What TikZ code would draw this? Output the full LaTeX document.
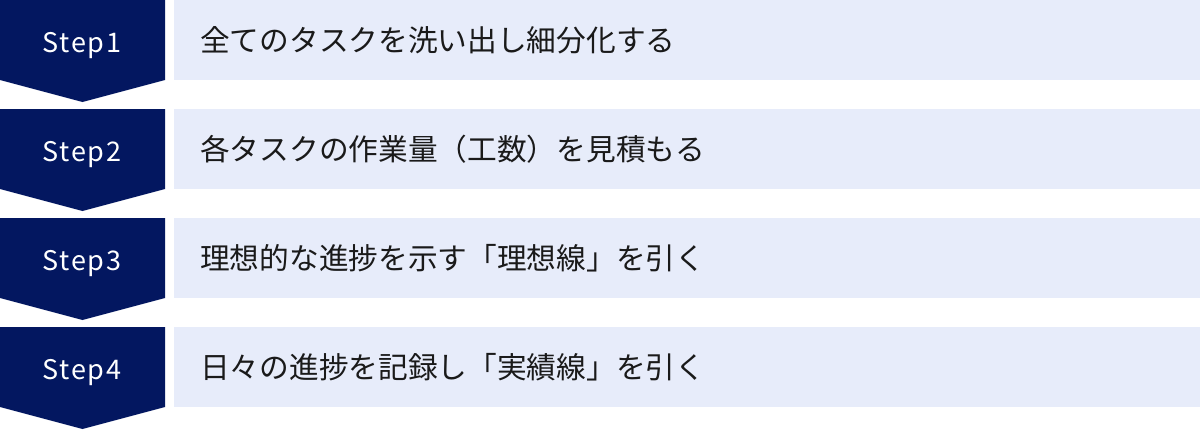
\documentclass[tikz,border=0pt]{standalone}
\usepackage{fontspec}
\setmainfont{Noto Sans CJK JP}
\newfontfamily\jpfont{Noto Sans CJK JP}
\newfontfamily\stepfont[LetterSpace=6]{Noto Sans CJK JP}
\definecolor{navy}{RGB}{3,23,96}
\definecolor{lightbg}{RGB}{231,236,250}
\definecolor{txt}{RGB}{26,26,26}
\tikzset{
  steplabel/.style={text=white, font=\stepfont\fontsize{27}{30}\selectfont, anchor=base, inner sep=0pt},
  bartext/.style={text=txt, font=\jpfont\fontsize{29.7}{34}\selectfont, anchor=west, inner sep=0pt},
}
\begin{document}
\begin{tikzpicture}[x=1pt,y=-1pt]
\useasboundingbox (0,0) rectangle (1200,429);
\foreach \i/\lab/\txt in {0/Step1/全てのタスクを洗い出し細分化する,1/Step2/各タスクの作業量（工数）を見積もる,2/Step3/理想的な進捗を示す「理想線」を引く,3/Step4/日々の進捗を記録し「実績線」を引く}{
  \pgfmathsetmacro{\yy}{\i*109}
  \fill[navy] (0,\yy) -- (165,\yy) -- (165,\yy+80) -- (82.5,\yy+102) -- (0,\yy+80) -- cycle;
  \fill[lightbg] (174,\yy) rectangle (1200,\yy+80);
  \node[steplabel] (s\i) at (82,\yy+52) {\lab};
  \node[bartext] (t\i) at (200,\yy+40) {\txt};
}
\end{tikzpicture}
\end{document}
